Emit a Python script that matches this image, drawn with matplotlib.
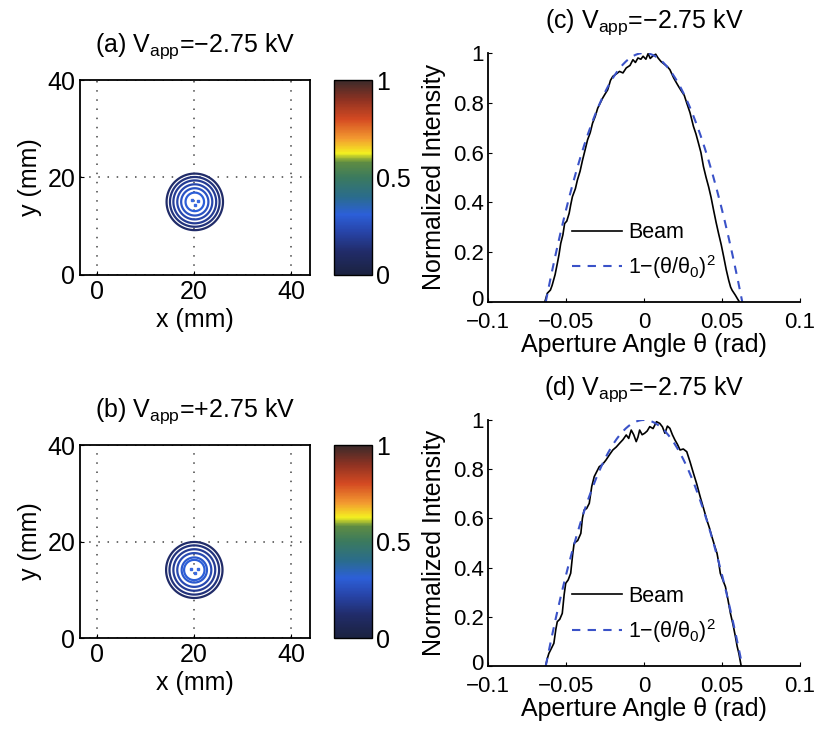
import numpy as np
import matplotlib.pyplot as plt
import matplotlib.transforms as mtransforms
from matplotlib.colors import LinearSegmentedColormap, Normalize
from matplotlib.colorbar import ColorbarBase

plt.rcParams["font.family"] = ["Liberation Sans", "DejaVu Sans"]
plt.rcParams["mathtext.default"] = "regular"
plt.rcParams["axes.unicode_minus"] = True

# ---- beam spot contours (x, y in mm) ----
spot_a_center = (20.2, 15.0)
spot_a_radii = [1.9, 2.8, 3.6, 4.4, 5.1, 5.8]
spot_a_levels = [0.31, 0.27, 0.23, 0.19, 0.15, 0.12]

spot_b_center = (20.1, 14.1)
spot_b_radii = [2.1, 2.6, 3.5, 4.3, 5.1, 5.8]
spot_b_levels = [0.31, 0.29, 0.24, 0.19, 0.15, 0.12]

# ---- angular profiles ----
theta_c = [-0.0636, -0.0620, -0.0600, -0.0589, -0.0570, -0.0556, -0.0545,
           -0.0534, -0.0520, -0.0509, -0.0495, -0.0480, -0.0470, -0.0459,
           -0.0440, -0.0427, -0.0410, -0.0394, -0.0378, -0.0362, -0.0345,
           -0.0330, -0.0313, -0.0297, -0.0280, -0.0265, -0.0250, -0.0233,
           -0.0215, -0.0200, -0.0180, -0.0157, -0.0135, -0.0114, -0.0090,
           -0.0071, -0.0055, -0.0039, -0.0020, -0.0006, 0.0012, 0.0026,
           0.0040, 0.0058, 0.0075, 0.0090, 0.0110, 0.0134, 0.0150, 0.0166,
           0.0190, 0.0209, 0.0225, 0.0241, 0.0258, 0.0274, 0.0295, 0.0317,
           0.0333, 0.0349, 0.0365, 0.0381, 0.0398, 0.0414, 0.0430, 0.0446,
           0.0462, 0.0478, 0.0495, 0.0511, 0.0527, 0.0543, 0.0555, 0.0565,
           0.0586, 0.0600, 0.0612]
beam_c = [0.0, 0.035, 0.048, 0.067, 0.11, 0.154, 0.19, 0.235, 0.27, 0.315,
          0.325, 0.356, 0.39, 0.423, 0.455, 0.49, 0.525, 0.57, 0.61, 0.651,
          0.68, 0.718, 0.745, 0.778, 0.80, 0.819, 0.835, 0.852, 0.89, 0.906,
          0.915, 0.926, 0.92, 0.94, 0.95, 0.973, 0.962, 0.98, 0.975, 0.987,
          0.975, 0.997, 0.978, 0.989, 0.995, 0.98, 0.965, 0.953, 0.945,
          0.933, 0.9, 0.879, 0.862, 0.846, 0.83, 0.799, 0.76, 0.705, 0.675,
          0.638, 0.60, 0.544, 0.50, 0.463, 0.42, 0.369, 0.32, 0.275, 0.23,
          0.181, 0.13, 0.087, 0.06, 0.047, 0.027, 0.012, 0.0]
theta0_c = 0.063

theta_d = [-0.0631, -0.0620, -0.0610, -0.0595, -0.0578, -0.0565, -0.0556,
           -0.0540, -0.0524, -0.0512, -0.0502, -0.0486, -0.0470, -0.0458,
           -0.0448, -0.0425, -0.0405, -0.0395, -0.0384, -0.0368, -0.0351,
           -0.0335, -0.0319, -0.0303, -0.0287, -0.0265, -0.0244, -0.0220,
           -0.0200, -0.0178, -0.0157, -0.0135, -0.0114, -0.0098, -0.0082,
           -0.0066, -0.0050, -0.0039, -0.0028, -0.0012, 0.0004, 0.0020,
           0.0037, 0.0058, 0.0080, 0.0101, 0.0118, 0.0134, 0.0150, 0.0166,
           0.0182, 0.0198, 0.0215, 0.0231, 0.0252, 0.0274, 0.0295, 0.0317,
           0.0338, 0.0360, 0.0382, 0.0403, 0.0420, 0.0435, 0.0452, 0.0468,
           0.0479, 0.0489, 0.0505, 0.0522, 0.0538, 0.0554, 0.0570, 0.0586,
           0.0597, 0.0608, 0.0623]
beam_d = [0.0, 0.03, 0.051, 0.07, 0.092, 0.15, 0.18, 0.19, 0.214, 0.29,
          0.336, 0.35, 0.377, 0.45, 0.499, 0.51, 0.539, 0.60, 0.634, 0.64,
          0.661, 0.73, 0.77, 0.79, 0.81, 0.82, 0.837, 0.86, 0.878, 0.89,
          0.905, 0.92, 0.939, 0.925, 0.959, 0.94, 0.912, 0.93, 0.959, 0.94,
          0.946, 0.955, 0.973, 0.965, 0.993, 0.986, 0.972, 0.946, 0.975,
          0.966, 0.94, 0.919, 0.90, 0.878, 0.882, 0.871, 0.83, 0.783, 0.74,
          0.688, 0.64, 0.593, 0.56, 0.526, 0.49, 0.458, 0.42, 0.377, 0.35,
          0.322, 0.27, 0.214, 0.17, 0.119, 0.08, 0.051, 0.0]
theta0_d = 0.063

angle_ticks = [-0.1, -0.05, 0, 0.05, 0.1]
angle_ticklabels = ["\u22120.1", "\u22120.05", "0", "0.05", "0.1"]
intensity_ticks = [0, 0.2, 0.4, 0.6, 0.8, 1]
intensity_ticklabels = ["0", "0.2", "0.4", "0.6", "0.8", "1"]
mm_ticks = [0, 20, 40]
cbar_ticks = [0, 0.5, 1]
cbar_ticklabels = ["0", "0.5", "1"]

# colour scale as rendered on the colourbar
spot_cmap = LinearSegmentedColormap.from_list("spot", [
    (0.00, "#1b2240"), (0.12, "#212c6a"), (0.22, "#2744a8"),
    (0.31, "#2c5fd8"), (0.40, "#2a6c8c"), (0.50, "#3b7a5e"),
    (0.58, "#5f8c42"), (0.625, "#f4f020"), (0.70, "#f39a30"),
    (0.80, "#d44a22"), (0.90, "#8e3222"), (1.00, "#3a2a2a")])
norm = Normalize(0, 1)

fig = plt.figure(figsize=(8.15, 7.30), dpi=100)


def spot_panel(rect, cb_rect, center, radii, levels, title):
    ax = fig.add_axes(rect)
    gx = np.linspace(-4, 45, 700)
    gy = np.linspace(-1, 41, 600)
    X, Y = np.meshgrid(gx, gy)
    R = np.hypot(X - center[0], Y - center[1])
    order = np.argsort(radii)
    lv = [radii[i] for i in order]
    cols = [spot_cmap(norm(levels[i])) for i in order]
    ax.contour(X, Y, R, levels=lv, colors=cols, linewidths=1.6)
    # a few isolated peak pixels in the middle of the spot
    ax.plot([center[0] - 0.6, center[0] + 0.7, center[0] + 0.1],
            [center[1] + 0.3, center[1] + 0.2, center[1] - 0.6],
            ls="none", marker="s", ms=1.6, color="#3a6ae0")
    ax.set_xlim(-3.4, 43.9)
    ax.set_ylim(0, 40)
    ax.set_xticks(mm_ticks)
    ax.set_yticks(mm_ticks)
    ax.tick_params(direction="in", length=3, labelsize=18, width=0.8)
    ax.grid(True, color="#444444", linestyle=(0, (1, 5)), linewidth=1.1)
    for s in ax.spines.values():
        s.set_linewidth(1.3)
    ax.set_ylabel("y (mm)", fontsize=18, labelpad=4)
    ax.set_xlabel("x (mm)", fontsize=18, labelpad=3)
    ax.set_title(title, fontsize=18, pad=20)

    cax = fig.add_axes(cb_rect)
    cb = ColorbarBase(cax, cmap=spot_cmap, norm=norm, ticks=cbar_ticks)
    cb.set_ticklabels(cbar_ticklabels)
    cb.outline.set_linewidth(1.0)
    cax.tick_params(length=0, labelsize=18, pad=3)
    return ax


def profile_panel(rect, theta, beam, theta0, title, legend_y):
    ax = fig.add_axes(rect)
    ax.plot(theta, beam, color="black", lw=1.2, label="Beam")
    tt = np.linspace(-theta0, theta0, 200)
    ax.plot(tt, 1 - (tt / theta0) ** 2, color="#3a52c8", lw=1.5,
            dashes=(4, 3.5), label="1\u2212(\u03b8/\u03b8$_{0}$)$^{2}$")
    ax.set_xlim(-0.1, 0.1)
    ax.set_ylim(0, 1)
    ax.set_xticks(angle_ticks)
    ax.set_xticklabels(angle_ticklabels)
    ax.set_yticks(intensity_ticks)
    ax.set_yticklabels(intensity_ticklabels)
    ax.tick_params(direction="in", length=3, labelsize=16, width=0.8)
    ax.tick_params(axis="x", pad=7)
    ax.tick_params(axis="y", pad=3)
    # nudge the "0" on the intensity axis up so it clears the angle labels
    lift = mtransforms.ScaledTranslation(0, 3 / 72, fig.dpi_scale_trans)
    zero_lbl = ax.get_yticklabels()[0]
    zero_lbl.set_transform(zero_lbl.get_transform() + lift)
    ax.spines["top"].set_visible(False)
    ax.spines["right"].set_visible(False)
    ax.spines["left"].set_linewidth(1.3)
    ax.spines["bottom"].set_linewidth(1.3)
    ax.set_xlabel("Aperture Angle \u03b8 (rad)", fontsize=18, labelpad=0)
    ax.set_ylabel("Normalized Intensity", fontsize=18, labelpad=5)
    ax.set_title(title, fontsize=18, pad=18)
    ax.legend(loc="upper left", bbox_to_anchor=(0.27, legend_y),
              frameon=False, fontsize=15.5, handlelength=2.3,
              handletextpad=0.3, labelspacing=0.45, borderpad=0,
              borderaxespad=0)
    return ax


spot_panel([0.0982, 0.6233, 0.2822, 0.2671], [0.4098, 0.6233, 0.0466, 0.2671],
           spot_a_center, spot_a_radii, spot_a_levels,
           "(a) V$_{app}$=\u22122.75 kV")
spot_panel([0.0982, 0.1260, 0.2822, 0.2644], [0.4098, 0.1260, 0.0466, 0.2644],
           spot_b_center, spot_b_radii, spot_b_levels,
           "(b) V$_{app}$=+2.75 kV")
profile_panel([0.5988, 0.5863, 0.3828, 0.3411], theta_c, beam_c, theta0_c,
              "(c) V$_{app}$=\u22122.75 kV", 0.32)
profile_panel([0.5988, 0.0877, 0.3828, 0.3370], theta_d, beam_d, theta0_d,
              "(d) V$_{app}$=\u22122.75 kV", 0.325)

fig.savefig("out.png", dpi=100)
